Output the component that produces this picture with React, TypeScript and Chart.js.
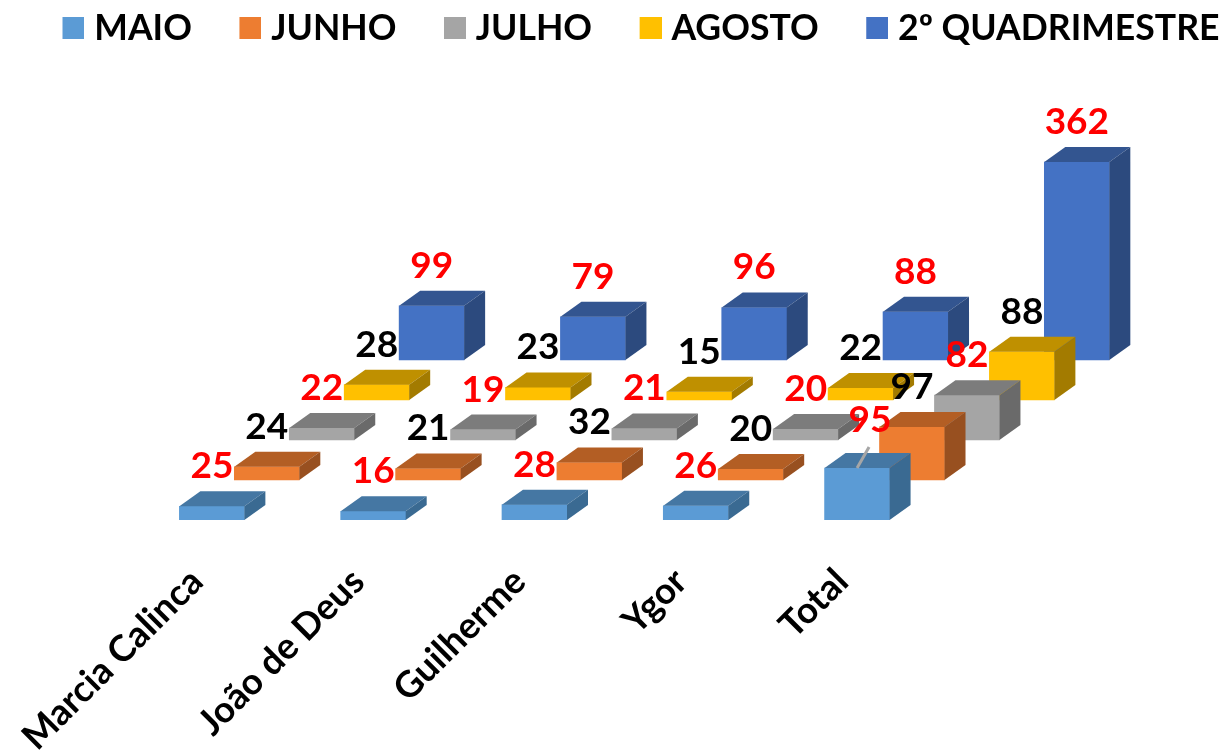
import React, { useEffect, useRef } from "react";
import { Chart, registerables } from "chart.js";

Chart.register(...registerables);

const categories = ["Marcia Calinca", "João de Deus", "Guilherme", "Ygor", "Total"];
const maio = [25, 16, 28, 26, 95];
const junho = [24, 21, 32, 20, 97];
const julho = [22, 19, 21, 20, 82];
const agosto = [28, 23, 15, 22, 88];
const quadrimestre = [99, 79, 96, 88, 362];

const seriesNames = ["MAIO", "JUNHO", "JULHO", "AGOSTO", "2º QUADRIMESTRE"];
const seriesValues = [maio, junho, julho, agosto, quadrimestre];
const frontColors = ["#5B9BD5", "#ED7D31", "#A5A5A5", "#FFC000", "#4472C4"];
const topColors = ["#4577A3", "#B35E24", "#7C7C7C", "#BF9000", "#335590"];
const sideColors = ["#3A6A92", "#985020", "#6A6A6A", "#A37B00", "#2C4A7E"];
const labelColors = ["#FF0000", "#000000", "#FF0000", "#000000", "#FF0000"];

const FONT = "Lato";
const PX_PER_UNIT = 0.547;
const CATEGORY_PX = 160.6;
const FIRST_CENTER_PX = 211;
const BASE_PX = 520;
const SERIES_DX = 54.7;
const SERIES_DY = 40;
const DEPTH_DX = 21;
const DEPTH_DY = 15;
const PAD_LEFT = 8;
const PAD_RIGHT = -38;
const PAD_TOP = -29;
const SWATCH = 22;
const SWATCH_SHIFT = 8;

function swatch(color: string) {
  const c = document.createElement("canvas");
  c.width = SWATCH + 2 * SWATCH_SHIFT;
  c.height = SWATCH;
  const g = c.getContext("2d") as CanvasRenderingContext2D;
  g.fillStyle = color;
  g.fillRect(2 * SWATCH_SHIFT, 0, SWATCH, SWATCH);
  return c;
}

const box3d = {
  id: "box3d",
  afterDatasetDraw(chart: any, args: any) {
    const i = args.index;
    const ctx = chart.ctx;
    const meta = chart.getDatasetMeta(i);
    ctx.save();
    meta.data.forEach((bar: any) => {
      const { x, y, base, width } = bar.getProps(["x", "y", "base", "width"], true);
      const l = x - width / 2;
      const r = x + width / 2;
      ctx.fillStyle = topColors[i];
      ctx.beginPath();
      ctx.moveTo(l, y);
      ctx.lineTo(l + DEPTH_DX, y - DEPTH_DY);
      ctx.lineTo(r + DEPTH_DX, y - DEPTH_DY);
      ctx.lineTo(r, y);
      ctx.closePath();
      ctx.fill();
      ctx.fillStyle = sideColors[i];
      ctx.beginPath();
      ctx.moveTo(r, y);
      ctx.lineTo(r + DEPTH_DX, y - DEPTH_DY);
      ctx.lineTo(r + DEPTH_DX, base - DEPTH_DY);
      ctx.lineTo(r, base);
      ctx.closePath();
      ctx.fill();
    });
    ctx.restore();
  },
  afterDatasetsDraw(chart: any) {
    const ctx = chart.ctx;
    ctx.save();
    ctx.textAlign = "center";
    ctx.textBaseline = "middle";
    ctx.font = `bold 37px ${FONT}`;
    seriesValues.forEach((values, i) => {
      const meta = chart.getDatasetMeta(i);
      values.forEach((v, j) => {
        const bar = meta.data[j];
        const moved = i === 0 && j === categories.length - 1;
        if (moved) {
          ctx.strokeStyle = "#A6A6A6";
          ctx.lineWidth = 3;
          ctx.beginPath();
          ctx.moveTo(bar.x, bar.y);
          ctx.lineTo(bar.x + 12, bar.y - 21);
          ctx.stroke();
        }
        ctx.fillStyle = labelColors[i];
        ctx.fillText(String(v), bar.x + (moved ? 13 : 0), bar.y - (moved ? 48 : 40));
      });
    });
    ctx.restore();
  },
};

function buildScales(areaWidth: number, areaHeight: number) {
  const scales: any = {};
  const span = areaWidth / CATEGORY_PX;
  const range = areaHeight / PX_PER_UNIT;
  seriesNames.forEach((_, k) => {
    const xMin = -(FIRST_CENTER_PX - PAD_LEFT + k * SERIES_DX) / CATEGORY_PX;
    scales[`x${k}`] = {
      type: "linear",
      display: k === 0,
      position: "bottom",
      offset: false,
      min: xMin,
      max: xMin + span,
      grid: { display: false, drawTicks: false },
      border: { display: false },
      afterFit:
        k === 0
          ? (s: any) => {
              s.height = 752 - BASE_PX;
            }
          : undefined,
      ticks: {
        stepSize: 1,
        includeBounds: false,
        autoSkip: false,
        minRotation: 45,
        maxRotation: 45,
        padding: 40,
        labelOffset: -15,
        color: "#000000",
        font: { family: FONT, weight: "bold", size: 36.5 },
        callback: (v: number) => categories[v],
      },
    };
    const yMin = -(k * SERIES_DY) / PX_PER_UNIT;
    scales[`y${k}`] = {
      type: "linear",
      display: false,
      min: yMin,
      max: yMin + range,
    };
  });
  return scales;
}

export default function App() {
  const ref = useRef<HTMLCanvasElement | null>(null);
  useEffect(() => {
    const chart: any = new Chart(ref.current as HTMLCanvasElement, {
      type: "bar",
      data: {
        datasets: seriesNames.map((name, k) => ({
          label: name,
          data: seriesValues[k].map((v, i) => ({ x: i, y: v })),
          backgroundColor: frontColors[k],
          borderWidth: 0,
          barThickness: 65,
          grouped: false,
          xAxisID: `x${k}`,
          yAxisID: `y${k}`,
        })),
      },
      options: {
        responsive: false,
        animation: false,
        layout: { padding: { left: PAD_LEFT, right: PAD_RIGHT, top: PAD_TOP, bottom: 0 } },
        scales: buildScales(1258, 460),
        plugins: {
          tooltip: { enabled: false },
          legend: {
            position: "top",
            labels: {
              usePointStyle: true,
              pointStyleWidth: SWATCH,
              boxHeight: SWATCH,
              padding: 39.5,
              color: "#000000",
              font: { family: FONT, weight: "bold", size: 35.6 },
              generateLabels: (c: any) =>
                Chart.defaults.plugins.legend.labels
                  .generateLabels(c)
                  .map((item: any, k: number) => ({ ...item, pointStyle: swatch(frontColors[k]) })),
            },
          },
        },
      },
      plugins: [box3d],
    } as any);
    const area = chart.chartArea;
    chart.options.scales = buildScales(area.right - area.left, area.bottom - area.top);
    chart.update();
    return () => chart.destroy();
  }, []);
  return (
    <canvas
      ref={ref}
      width={1228}
      height={752}
      style={{ position: "fixed", left: 0, top: 0, filter: "blur(0.6px)" }}
    />
  );
}
